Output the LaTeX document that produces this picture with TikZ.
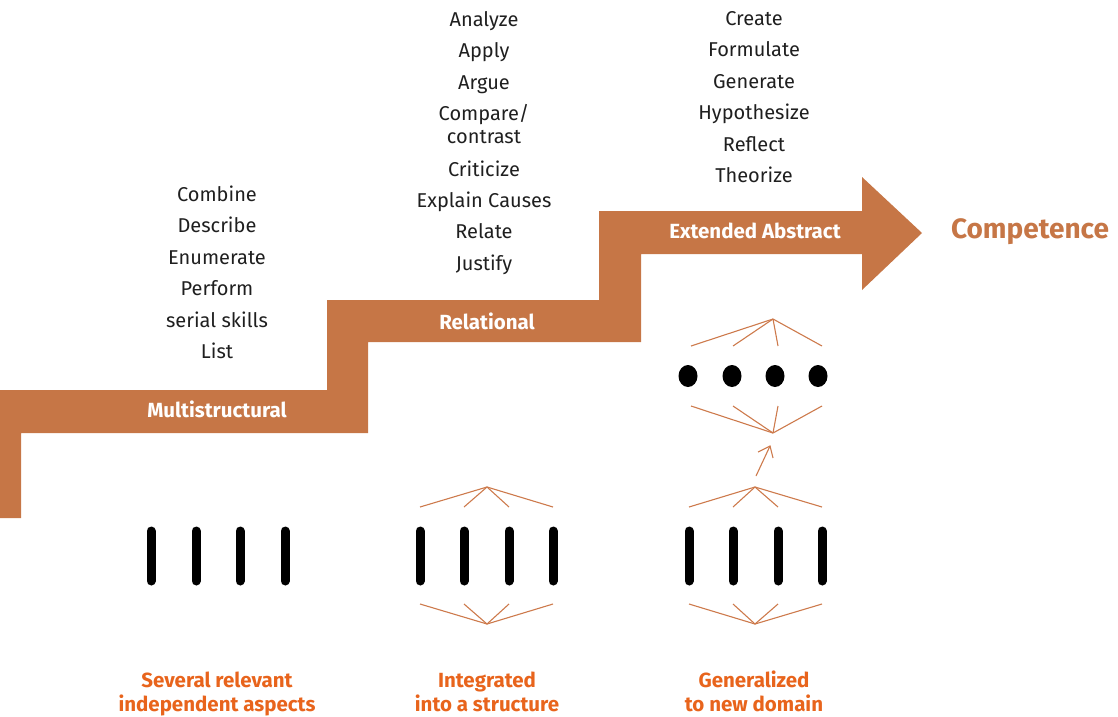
\documentclass[tikz,border=0pt]{standalone}
\usepackage{fontspec}
\setmainfont{Fira Sans}
\usetikzlibrary{arrows.meta,shapes.geometric}
\definecolor{barc}{HTML}{C67646}
\definecolor{labc}{HTML}{E8641C}
\definecolor{linec}{HTML}{CD7A4C}
\begin{document}
\begin{tikzpicture}[x=1pt,y=-1pt,
  word/.style={inner sep=0pt,anchor=base,font=\fontsize{20}{22}\selectfont,text=black!88},
  barlabel/.style={inner sep=0pt,anchor=base,font=\fontsize{20.5}{22}\selectfont\bfseries,text=white},
  bottomlabel/.style={inner sep=0pt,anchor=base,font=\fontsize{20.5}{24}\selectfont\bfseries,text=labc},
  stick/.style={line width=9pt,line cap=round},
  thin/.style={draw=linec,line width=1.1pt},
  dot/.style={ellipse,fill=black,minimum width=19pt,minimum height=22pt,inner sep=0pt}
]
\useasboundingbox (0,0) rectangle (1118,716);
% staircase arrow
\fill[barc] (0,518) -- (0,390) -- (327,390) -- (327,300) -- (599,300) -- (599,211)
  -- (862,211) -- (862,177) -- (922,233) -- (862,290) -- (862,254) -- (641,254)
  -- (641,342) -- (368,342) -- (368,433) -- (21,433) -- (21,518) -- cycle;
\node[barlabel] (multi) at (217,417) {Multistructural};
\node[barlabel] (rel) at (487,329) {Relational};
\node[barlabel] (ext) at (755,238.5) {Extended Abstract};
\node[inner sep=0pt,anchor=base,font=\fontsize{28}{30}\selectfont\bfseries,text=barc] (comp) at (1030,238.5) {Competence};
% word lists
\node[word] (w1a) at (217,201) {Combine};
\node[word] (w1b) at (217,232.5) {Describe};
\node[word] (w1c) at (217,264) {Enumerate};
\node[word] (w1d) at (217,295.5) {Perform};
\node[word] (w1e) at (217,327) {serial skills};
\node[word] (w1f) at (217,358.5) {List};
\node[word] (w2a) at (484,26) {Analyze};
\node[word] (w2b) at (484,57.5) {Apply};
\node[word] (w2c) at (484,89) {Argue};
\node[word] (w2d) at (484,120) {Compare/};
\node[word] (w2e) at (484,143.5) {contrast};
\node[word] (w2f) at (484,176) {Criticize};
\node[word] (w2g) at (484,207.5) {Explain Causes};
\node[word] (w2h) at (484,238.5) {Relate};
\node[word] (w2i) at (484,270) {Justify};
\node[word] (w3a) at (754,25) {Create};
\node[word] (w3b) at (754,56.5) {Formulate};
\node[word] (w3c) at (754,88) {Generate};
\node[word] (w3d) at (754,119.5) {Hypothesize};
\node[word] (w3e) at (754,151) {Reflect};
\node[word] (w3f) at (754,182.5) {Theorize};
% bottom labels
\node[bottomlabel] (b1a) at (217,687) {Several relevant};
\node[bottomlabel] (b1b) at (217,711) {independent aspects};
\node[bottomlabel] (b2a) at (487,687) {Integrated};
\node[bottomlabel] (b2b) at (487,711) {into a structure};
\node[bottomlabel] (b3a) at (754,687) {Generalized};
\node[bottomlabel] (b3b) at (754,711) {to new domain};
% sticks column 1
\foreach \x in {151,196,240,285} \draw[stick] (\x,531) -- (\x,581);
% column 2
\foreach \x in {420,464,509,553} {
  \draw[stick] (\x,531) -- (\x,581);
}
\coordinate (t2) at (487,487);
\coordinate (u2) at (487,624);
\foreach \x in {420,464,509,553} {
  \draw[thin] (t2) -- (\x,507);
  \draw[thin] (u2) -- (\x,604);
}
% column 3
\foreach \x in {689,733,778,822} {
  \draw[stick] (\x,531) -- (\x,581);
}
\coordinate (t3) at (755,487);
\coordinate (u3) at (755,624);
\foreach \x in {689,733,778,822} {
  \draw[thin] (t3) -- (\x,507);
  \draw[thin] (u3) -- (\x,604);
}
% generalization arrow
\coordinate (ga) at (756,476);
\coordinate (gb) at (770,446);
\draw[thin] (ga) -- (gb);
\draw[thin] (758,452) -- (gb) -- (773,458);
% dots row
\node[dot] (d1) at (688,376) {};
\node[dot] (d2) at (732,376) {};
\node[dot] (d3) at (775,376) {};
\node[dot] (d4) at (818,376) {};
\coordinate (t4) at (773,319);
\coordinate (u4) at (773,433);
\foreach \x in {691,733,778,822} {
  \draw[thin] (t4) -- (\x,346);
  \draw[thin] (u4) -- (\x,406);
}
\end{tikzpicture}
\end{document}
